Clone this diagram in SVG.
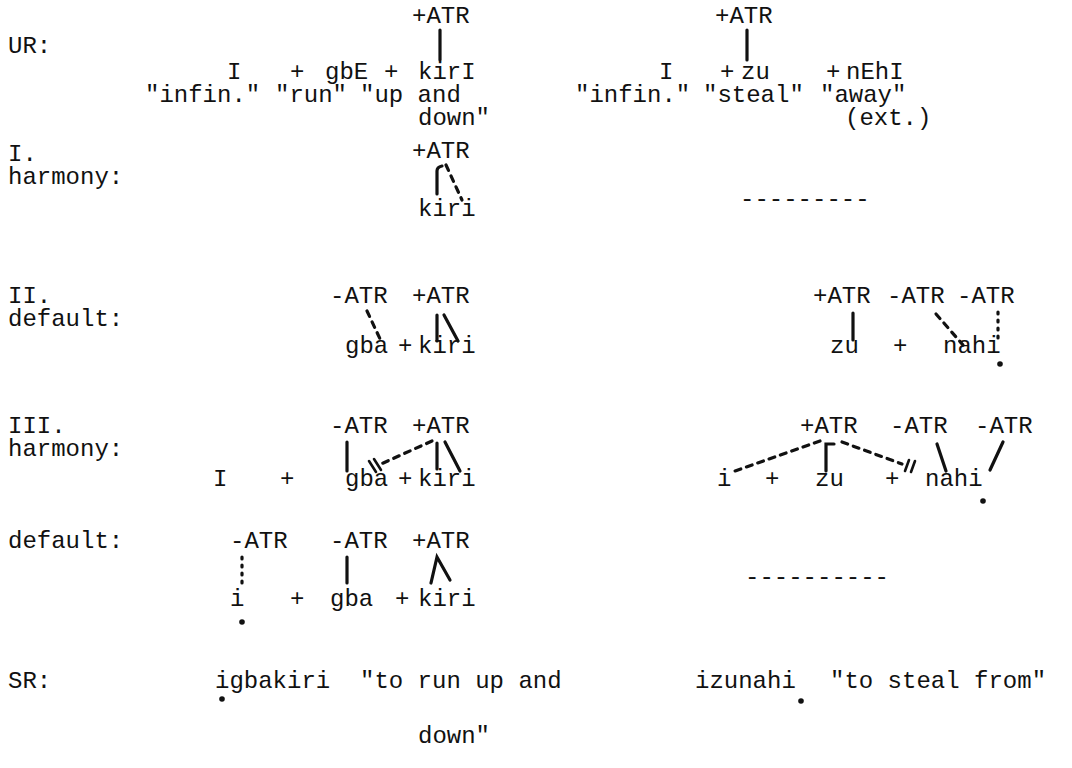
<svg xmlns="http://www.w3.org/2000/svg" width="1072" height="768" viewBox="0 0 1072 768">
  <style>
    text { font-family: "Liberation Mono", "DejaVu Sans Mono", monospace; font-size: 24px; fill: #111; }
    .solid { stroke: #111; stroke-width: 3.2; stroke-linecap: round; fill: none; }
    .dash { stroke: #111; stroke-width: 3.2; stroke-linecap: round; stroke-dasharray: 6 6; fill: none; }
    .dot { stroke: #111; stroke-width: 3.2; stroke-linecap: round; stroke-dasharray: 2 6; fill: none; }
    .bar { stroke: #111; stroke-width: 2.6; stroke-linecap: round; fill: none; }
  </style>
  <rect width="1072" height="768" fill="#fff"/>

  <!-- stage labels -->
  <g id="labels">
    <text x="8" y="53">UR:</text>
    <text x="8" y="161">I.</text>
    <text x="8" y="184">harmony:</text>
    <text x="8" y="303">II.</text>
    <text x="8" y="326">default:</text>
    <text x="8" y="433">III.</text>
    <text x="8" y="456">harmony:</text>
    <text x="8" y="548">default:</text>
    <text x="8" y="688">SR:</text>
  </g>

  <!-- underlying form: igbakiri -->
  <g id="ur-left">
    <text x="412" y="23">+ATR</text>
    <text x="227" y="79">I</text>
    <text x="290" y="79">+</text>
    <text x="325" y="79">gbE</text>
    <text x="384" y="79">+</text>
    <text x="418" y="79">kirI</text>
    <text x="145" y="102">"infin."</text>
    <text x="275" y="102">"run"</text>
    <text x="360" y="102">"up and</text>
    <text x="418" y="125">down"</text>
  </g>

  <!-- underlying form: izunahi -->
  <g id="ur-right">
    <text x="715" y="23">+ATR</text>
    <text x="659" y="79">I</text>
    <text x="720" y="79">+</text>
    <text x="741" y="79">zu</text>
    <text x="826" y="79">+</text>
    <text x="846" y="79">nEhI</text>
    <text x="575" y="102">"infin."</text>
    <text x="703" y="102">"steal"</text>
    <text x="820" y="102">"away"</text>
    <text x="845" y="125">(ext.)</text>
  </g>

  <!-- step I: harmony -->
  <g id="step1-left">
    <text x="412" y="158">+ATR</text>
    <text x="418" y="216">kiri</text>
  </g>
  <g id="step1-right">
    <text x="740" y="206">---------</text>
  </g>

  <!-- step II: default -->
  <g id="step2-left">
    <text x="330" y="303">-ATR</text>
    <text x="412" y="303">+ATR</text>
    <text x="345" y="353">gba</text>
    <text x="398" y="353">+</text>
    <text x="418" y="353">kiri</text>
  </g>
  <g id="step2-right">
    <text x="813" y="303">+ATR</text>
    <text x="887" y="303">-ATR</text>
    <text x="957" y="303">-ATR</text>
    <text x="830" y="353">zu</text>
    <text x="893" y="353">+</text>
    <text x="943" y="353">nahi</text>
    <circle cx="1000" cy="364" r="2.8" fill="#111"/>
  </g>

  <!-- step III: harmony -->
  <g id="step3-left">
    <text x="330" y="433">-ATR</text>
    <text x="412" y="433">+ATR</text>
    <text x="213" y="486">I</text>
    <text x="280" y="486">+</text>
    <text x="345" y="486">gba</text>
    <text x="398" y="486">+</text>
    <text x="418" y="486">kiri</text>
  </g>
  <g id="step3-right">
    <text x="800" y="433">+ATR</text>
    <text x="890" y="433">-ATR</text>
    <text x="975" y="433">-ATR</text>
    <text x="717" y="486">i</text>
    <text x="765" y="486">+</text>
    <text x="815" y="486">zu</text>
    <text x="885" y="486">+</text>
    <text x="925" y="486">nahi</text>
    <circle cx="983" cy="501" r="2.8" fill="#111"/>
  </g>

  <!-- final default -->
  <g id="step4-left">
    <text x="230" y="548">-ATR</text>
    <text x="330" y="548">-ATR</text>
    <text x="412" y="548">+ATR</text>
    <text x="230" y="606">i</text>
    <text x="290" y="606">+</text>
    <text x="330" y="606">gba</text>
    <text x="395" y="606">+</text>
    <text x="418" y="606">kiri</text>
    <circle cx="242" cy="622" r="2.8" fill="#111"/>
  </g>
  <g id="step4-right">
    <text x="745" y="584">----------</text>
  </g>

  <!-- surface forms -->
  <g id="sr-left">
    <text x="215" y="688">igbakiri</text>
    <text x="360" y="688">"to run up and</text>
    <text x="418" y="743">down"</text>
    <circle cx="222" cy="699" r="2.8" fill="#111"/>
  </g>
  <g id="sr-right">
    <text x="695" y="688">izunahi</text>
    <text x="830" y="688">"to steal from"</text>
    <circle cx="801" cy="701" r="2.8" fill="#111"/>
  </g>

  <!-- association lines -->
  <g id="connectors">
    <!-- UR -->
    <line class="solid" x1="440" y1="30" x2="440" y2="60"/>
    <line class="solid" x1="747" y1="30" x2="747" y2="60"/>
    <!-- step I -->
    <path class="solid" d="M437 194 L437 171 Q437 167 442 166"/>
    <line class="dash" x1="446" y1="165" x2="462" y2="200"/>
    <!-- step II left -->
    <line class="dash" x1="367" y1="311" x2="381" y2="341"/>
    <line class="solid" x1="437" y1="315" x2="437" y2="341"/>
    <line class="solid" x1="444" y1="315" x2="458" y2="341"/>
    <!-- step II right -->
    <line class="solid" x1="853" y1="313" x2="853" y2="340"/>
    <line class="dash" x1="936" y1="314" x2="963" y2="345"/>
    <line class="dot" x1="998" y1="312" x2="998" y2="344"/>
    <!-- step III left -->
    <line class="solid" x1="347" y1="442" x2="347" y2="471"/>
    <line class="solid" x1="437" y1="443" x2="437" y2="469"/>
    <line class="solid" x1="445" y1="442" x2="460" y2="471"/>
    <line class="dash" x1="432" y1="441" x2="381" y2="464"/>
    <line class="bar" x1="369" y1="461" x2="376" y2="472"/>
    <line class="bar" x1="374" y1="459" x2="381" y2="470"/>
    <!-- step III right -->
    <line class="dash" x1="820" y1="441" x2="735" y2="471"/>
    <path class="solid" d="M826 471 L826 444 L834 444"/>
    <line class="dash" x1="842" y1="442" x2="902" y2="464"/>
    <line class="bar" x1="905" y1="471" x2="909" y2="460"/>
    <line class="bar" x1="911" y1="472" x2="915" y2="461"/>
    <line class="solid" x1="937" y1="444" x2="946" y2="471"/>
    <line class="solid" x1="1003" y1="442" x2="990" y2="470"/>
    <!-- final default -->
    <line class="dot" x1="242" y1="557" x2="242" y2="587"/>
    <line class="solid" x1="347" y1="557" x2="347" y2="583"/>
    <path class="solid" d="M431 583 L437 557 L450 580"/>
  </g>
</svg>
